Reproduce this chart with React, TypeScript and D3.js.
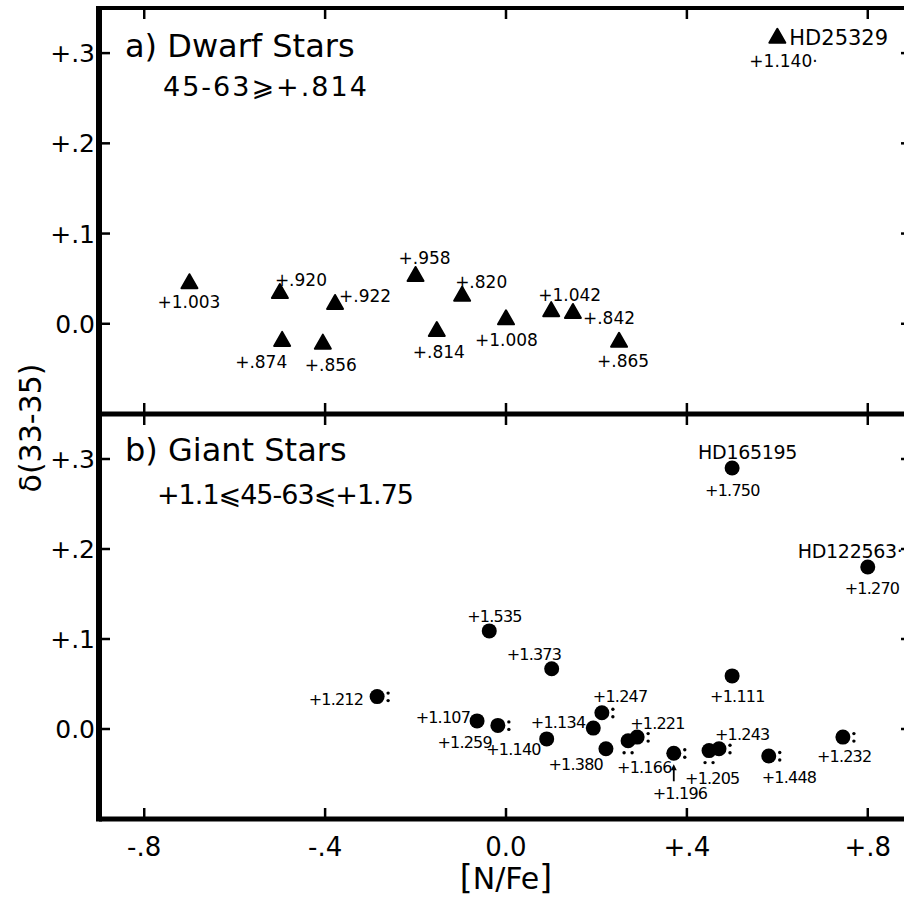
import React from 'react';
import * as d3 from 'd3';

// [N/Fe] vs delta(33-35); labels are the 45-63 colour of each star
const xTickValues = [-0.8, -0.4, 0.0, 0.4, 0.8];
const xTickLabels = ['-.8', '-.4', '0.0', '+.4', '+.8'];
const yTickValues = [0.0, 0.1, 0.2, 0.3];
const yTickLabels = ['0.0', '+.1', '+.2', '+.3'];

// a) dwarf stars
const dwarfNFe = [-0.70, -0.50, -0.495, -0.405, -0.378, -0.20, -0.153, -0.097, 0.0, 0.10, 0.148, 0.25, 0.60];
const dwarfDelta = [0.045, 0.034, -0.019, -0.022, 0.022, 0.053, -0.008, 0.031, 0.005, 0.014, 0.012, -0.020, 0.317];
const dwarfColour = ['+1.003', '+.920', '+.874', '+.856', '+.922', '+.958', '+.814', '+.820', '+1.008', '+1.042', '+.842', '+.865', '+1.140·'];
const dwarfNames = ['', '', '', '', '', '', '', '', '', '', '', '', 'HD25329'];

// b) giant stars
const giantNFe = [-0.285, -0.064, -0.018, 0.09, 0.193, 0.212, 0.221, 0.27, 0.29, 0.371, 0.449, 0.471, 0.581, 0.745, -0.037, 0.101, 0.50, 0.50, 0.80];
const giantDelta = [0.036, 0.009, 0.004, -0.011, 0.001, 0.018, -0.022, -0.013, -0.009, -0.027, -0.024, -0.022, -0.030, -0.009, 0.109, 0.067, 0.059, 0.290, 0.180];
const giantColour = ['+1.212', '+1.107', '+1.259', '+1.140', '+1.134', '+1.247', '+1.380', '+1.166', '+1.221', '+1.196', '+1.205', '+1.243', '+1.448', '+1.232', '+1.535', '+1.373', '+1.111', '+1.750', '+1.270'];
const giantNames = ['', '', '', '', '', '', '', '', '', '', '', '', '', '', '', '', '', 'HD165195', 'HD122563·'];
// uncertainty marks drawn next to a point: ':' right of it, '..' under it
const giantMarks = [':', '', ':', '', '', ':', '', '..', ':', ':', '..', ':', ':', ':', '', '', '', '', ''];
const giantArrow = [false, false, false, false, false, false, false, false, false, true, false, false, false, false, false, false, false, false, false];

// label placement relative to the mark: [dx, dy, anchor]
const dwarfLabelPos: [number, number, string][] = [
    [-32, 25, 'start'], [-5, -7, 'start'], [-47, 27, 'start'], [-18, 27, 'start'],
    [4, -2, 'start'], [-17, -12, 'start'], [-24, 27, 'start'], [-7, -8, 'start'],
    [-31, 27, 'start'], [-13, -10, 'start'], [10, 11, 'start'], [-22, 25, 'start'],
    [-28, 29, 'start']
];
const dwarfNamePos: [number, number] = [12, 7];

const giantLabelPos: [number, number, string][] = [
    [-14, 8, 'end'], [-7, 2, 'end'], [-6, 23, 'end'], [-6, 16, 'end'], [-8, 0, 'end'],
    [-9, -11, 'start'], [-3, 21, 'end'], [-11, 32, 'start'], [-7, -8, 'start'],
    [-21, 46, 'start'], [-24, 33, 'start'], [-4, -9, 'start'], [-7, 27, 'start'],
    [-26, 25, 'start'], [-22, -9, 'start'], [-45, -9, 'start'], [-22, 26, 'start'],
    [-27, 28, 'start'], [-23, 27, 'start']
];
const giantNamePos: [number, number][] = [];
giantNamePos[17] = [-34, -9];
giantNamePos[18] = [-70, -9];

const font = '"DejaVu Sans", sans-serif';

export default function App()
{
    let left = 99, right = 913, top = 8, mid = 414, bottom = 819;

    let x = d3.scaleLinear().domain([-0.9, 0.9]).range([left, right]);
    let yTop = d3.scaleLinear().domain([-0.1, 0.35]).range([mid, top]);
    let yBot = d3.scaleLinear().domain([-0.1, 0.35]).range([bottom, mid]);

    let tri = 'M0,-9L8,5L-8,5Z';

    let panelTicks = (y: d3.ScaleLinear<number, number>, key: string) =>
    {
        let r = y.range();
        return (
            <g key={key}>
                {yTickValues.map((v, i) => (
                    <g key={i}>
                        <line x1={left} x2={left + 11} y1={y(v)} y2={y(v)} stroke="#000" strokeWidth={2.5}/>
                        <line x1={right - 12} x2={right} y1={y(v)} y2={y(v)} stroke="#000" strokeWidth={2.5}/>
                        <text x={95} y={y(v)} dy="0.36em" textAnchor="end" fontSize={25}
                              fontFamily={font}>{yTickLabels[i]}</text>
                    </g>
                ))}
                {xTickValues.map((v, i) => (
                    <g key={'x' + i}>
                        <line x1={x(v)} x2={x(v)} y1={r[1]} y2={r[1] + 11} stroke="#000" strokeWidth={2.5}/>
                        <line x1={x(v)} x2={x(v)} y1={r[0] - 11} y2={r[0]} stroke="#000" strokeWidth={2.5}/>
                    </g>
                ))}
            </g>
        );
    };

    let triangles = dwarfNFe.map((v, i) =>
    {
        let px = x(v), py = yTop(dwarfDelta[i]);
        let p = dwarfLabelPos[i];
        return (
            <g key={i}>
                <path d={tri} transform={'translate(' + px + ',' + py + ')'} fill="#000"
                      stroke="#000" strokeWidth={2} strokeLinejoin="round"/>
                <text x={px + p[0]} y={py + p[1]} textAnchor={p[2]} fontSize={17}
                      fontFamily={font}>{dwarfColour[i]}</text>
                {dwarfNames[i] &&
                    <text x={px + dwarfNamePos[0]} y={py + dwarfNamePos[1]} fontSize={21}
                          fontFamily={font}>{dwarfNames[i]}</text>}
            </g>
        );
    });

    let circles = giantNFe.map((v, i) =>
    {
        let px = x(v), py = yBot(giantDelta[i]);
        let p = giantLabelPos[i];
        let np = giantNamePos[i];
        return (
            <g key={i}>
                <circle cx={px} cy={py} r={7.5} fill="#000"/>
                <text x={px + p[0]} y={py + p[1]} textAnchor={p[2]} fontSize={16}
                      letterSpacing={-0.8} fontFamily={font}>{giantColour[i]}</text>
                {giantNames[i] &&
                    <text x={px + np[0]} y={py + np[1]} fontSize={19} letterSpacing={-0.3}
                          fontFamily={font}>{giantNames[i]}</text>}
                {giantMarks[i] === ':' &&
                    <g fill="#000">
                        <circle cx={px + 11} cy={py - 3.5} r={1.7}/>
                        <circle cx={px + 11} cy={py + 4} r={1.7}/>
                    </g>}
                {giantMarks[i] === '..' &&
                    <g fill="#000">
                        <circle cx={px - 4} cy={py + 12} r={1.7}/>
                        <circle cx={px + 4} cy={py + 12} r={1.7}/>
                    </g>}
                {giantArrow[i] &&
                    <g>
                        <line x1={px} x2={px} y1={py + 28} y2={py + 14} stroke="#000" strokeWidth={1.8}/>
                        <path d={'M' + px + ',' + (py + 11) + 'l-3,6h6z'} fill="#000"/>
                    </g>}
            </g>
        );
    });

    return (
        <svg width={904} height={900} style={{position: 'absolute', left: 0, top: 0}}>
            <rect width={904} height={900} fill="#fff"/>

            {panelTicks(yTop, 'top')}
            {panelTicks(yBot, 'bot')}

            <line x1={left} x2={right} y1={top} y2={top} stroke="#000" strokeWidth={4}/>
            <line x1={left} x2={right} y1={mid} y2={mid} stroke="#000" strokeWidth={5}/>
            <line x1={left} x2={right} y1={bottom} y2={bottom} stroke="#000" strokeWidth={5}/>
            <line x1={left} x2={left} y1={top - 2} y2={bottom + 2.5} stroke="#000" strokeWidth={6}/>
            <line x1={right} x2={right} y1={top - 2} y2={bottom + 2.5} stroke="#000" strokeWidth={5}/>

            {xTickValues.map((v, i) => (
                <text key={i} x={x(v)} y={856} textAnchor="middle" fontSize={26}
                      fontFamily={font}>{xTickLabels[i]}</text>
            ))}

            <text x={506} y={889} textAnchor="middle" fontSize={30} fontFamily={font}>
                <tspan fontSize={33}>[</tspan>
                <tspan>N/Fe</tspan>
                <tspan fontSize={33}>]</tspan>
            </text>
            <text transform="translate(41,428) rotate(-90)" textAnchor="middle" fontSize={30}
                  fontFamily={font}>δ(33-35)</text>

            <text x={125} y={57} fontSize={32} fontFamily={font}>a) Dwarf Stars</text>
            <text x={163} y={96} fontSize={27} fontFamily={font} letterSpacing={2}>45-63⩾+.814</text>
            <text x={125} y={461} fontSize={32} fontFamily={font}>b) Giant Stars</text>
            <text x={157} y={504} fontSize={27} fontFamily={font} letterSpacing={-1}>+1.1⩽45-63⩽+1.75</text>

            {triangles}
            {circles}
        </svg>
    );
}
